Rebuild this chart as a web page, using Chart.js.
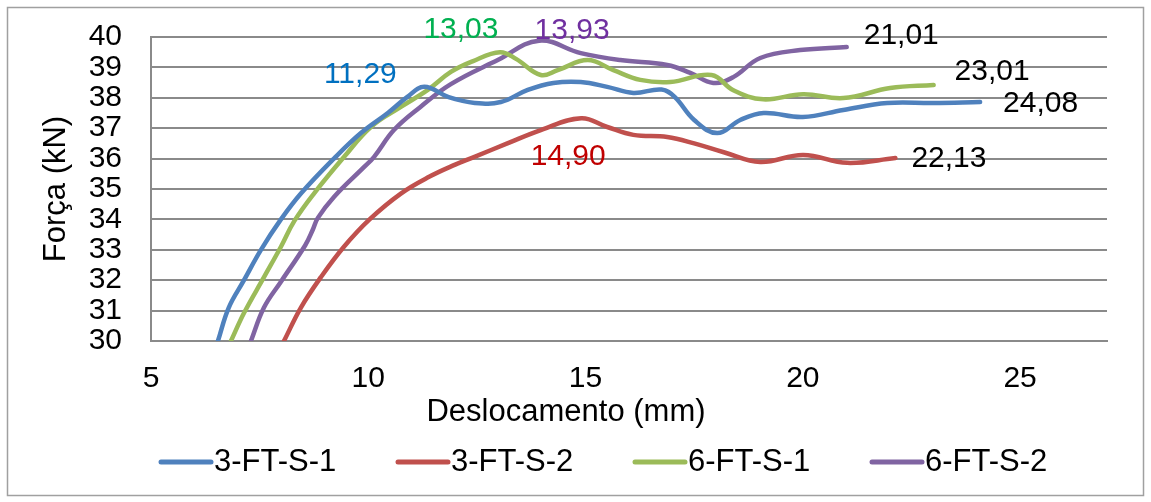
<!DOCTYPE html>
<html>
<head>
<meta charset="utf-8">
<script src="https://cdn.jsdelivr.net/npm/chart.js@4/dist/chart.umd.min.js"></script>
<style>
  html, body { margin: 0; padding: 0; background: #fff; }
  #wrap { width: 1151px; height: 502px; }
</style>
</head>
<body>
<div id="wrap"><canvas id="chart" width="1151" height="502"></canvas></div>
<script>
// séries (deslocamento em mm, força em kN)
const s1X = [6.54, 6.79, 7.14, 7.53, 7.99, 8.45, 9.21, 9.83, 10.45, 10.9, 11.29, 11.85, 12.45, 13.05, 13.67, 14.26, 14.89, 15.5, 16.1, 16.75, 17.05, 17.5, 18.03, 18.56, 19.1, 20.0, 20.93, 21.94, 23.0, 24.08];
const s1Y = [30.0, 31.1, 32.0, 33.0, 34.0, 34.85, 36.0, 36.84, 37.5, 38.03, 38.36, 38.02, 37.83, 37.86, 38.26, 38.49, 38.52, 38.36, 38.16, 38.27, 38.03, 37.27, 36.84, 37.27, 37.5, 37.37, 37.6, 37.83, 37.83, 37.86];

const s2X = [8.06, 8.45, 8.91, 9.44, 10.03, 10.75, 11.4, 12.0, 12.43, 13.2, 13.97, 14.9, 15.5, 16.1, 16.88, 17.5, 18.2, 19.02, 20.01, 21.02, 22.13];
const s2Y = [30.0, 31.1, 32.1, 33.1, 34.0, 34.85, 35.4, 35.8, 36.05, 36.5, 36.94, 37.33, 37.04, 36.78, 36.71, 36.5, 36.2, 35.89, 36.12, 35.86, 36.02];

const s3X = [6.84, 7.14, 7.6, 7.99, 8.3, 8.75, 9.44, 10.06, 10.75, 11.37, 11.9, 12.4, 13.03, 13.4, 13.97, 14.36, 15.05, 15.64, 16.26, 16.95, 17.9, 18.4, 19.09, 20.01, 20.93, 22.01, 23.01];
const s3Y = [30.0, 30.92, 32.1, 33.1, 33.95, 34.85, 36.05, 37.04, 37.7, 38.26, 38.85, 39.2, 39.5, 39.28, 38.75, 38.91, 39.24, 38.91, 38.59, 38.52, 38.75, 38.25, 37.95, 38.12, 37.99, 38.32, 38.42];

const s4X = [7.3, 7.6, 7.99, 8.55, 8.72, 8.84, 9.21, 9.9, 10.13, 10.59, 11.2, 11.9, 12.98, 13.93, 14.89, 15.8, 16.88, 17.41, 17.94, 18.4, 19.02, 19.94, 21.01];
const s4Y = [30.0, 31.1, 31.95, 33.15, 33.65, 34.05, 34.74, 35.72, 36.05, 36.94, 37.7, 38.45, 39.24, 39.88, 39.47, 39.24, 39.08, 38.82, 38.49, 38.68, 39.31, 39.57, 39.67];

const seriesNames = ['3-FT-S-1', '3-FT-S-2', '6-FT-S-1', '6-FT-S-2'];
const seriesColors = ['#4F81BD', '#C0504D', '#9BBB59', '#8064A2'];
const xTicks = [5, 10, 15, 20, 25];
const yTicks = [30, 31, 32, 33, 34, 35, 36, 37, 38, 39, 40];

const FONT = '"Liberation Sans", Arial, sans-serif';

const toPoints = (xs, ys) => xs.map((x, i) => ({ x, y: ys[i] }));
const allX = [s1X, s2X, s3X, s4X];
const allY = [s1Y, s2Y, s3Y, s4Y];

// rótulos: índice da série, índice do ponto, deslocamento em px, cor, alinhamento
const pointLabels = [
  { ds: 0, pt: 10, dx: -64, dy: -12, color: '#0070C0', align: 'center' },
  { ds: 2, pt: 12, dx: -39, dy: -22, color: '#00B050', align: 'center' },
  { ds: 3, pt: 13, dx: 33, dy: -10, color: '#7030A0', align: 'center' },
  { ds: 1, pt: 11, dx: -13, dy: 39, color: '#C00000', align: 'center' },
  { ds: 3, pt: s4X.length - 1, dx: 17, dy: -11, color: '#000', align: 'left' },
  { ds: 2, pt: s3X.length - 1, dx: 21, dy: -13, color: '#000', align: 'left' },
  { ds: 0, pt: s1X.length - 1, dx: 23, dy: 2, color: '#000', align: 'left' },
  { ds: 1, pt: s2X.length - 1, dx: 16, dy: 1, color: '#000', align: 'left' }
];

const labelPlugin = {
  id: 'pointLabels',
  afterDatasetsDraw(chart) {
    const { ctx, scales } = chart;
    ctx.save();
    ctx.font = '30px ' + FONT;
    ctx.textBaseline = 'middle';
    pointLabels.forEach(l => {
      const xv = allX[l.ds][l.pt];
      const yv = allY[l.ds][l.pt];
      const px = scales.x.getPixelForValue(xv);
      const py = scales.y.getPixelForValue(yv);
      ctx.fillStyle = l.color;
      ctx.textAlign = l.align;
      ctx.fillText(xv.toFixed(2).replace('.', ','), px + l.dx, py + l.dy);
    });
    ctx.restore();
  }
};

// borda externa, título do eixo x e legenda desenhados à mão
const framePlugin = {
  id: 'frame',
  beforeDraw(chart) {
    const { ctx } = chart;
    ctx.save();
    ctx.strokeStyle = '#a0a0a0';
    ctx.lineWidth = 1.5;
    ctx.strokeRect(7.5, 7.5, 1136, 488);
    ctx.restore();
  },
  afterDraw(chart) {
    const { ctx } = chart;
    ctx.save();
    ctx.font = '31px ' + FONT;
    ctx.textBaseline = 'middle';
    ctx.fillStyle = '#000';
    ctx.textAlign = 'center';
    ctx.fillText('Deslocamento (mm)', 566, 412);
    ctx.textAlign = 'left';
    const y = 462;
    seriesNames.forEach((name, i) => {
      const x0 = 158 + i * 237;
      ctx.strokeStyle = seriesColors[i];
      ctx.lineWidth = 5;
      ctx.lineCap = 'round';
      ctx.beginPath();
      ctx.moveTo(x0 + 3, y);
      ctx.lineTo(x0 + 53, y);
      ctx.stroke();
      ctx.fillStyle = '#000';
      ctx.fillText(name, x0 + 56, y);
    });
    ctx.restore();
  }
};

const datasets = seriesNames.map((name, i) => ({
  label: name,
  data: toPoints(allX[i], allY[i]),
  borderColor: seriesColors[i],
  backgroundColor: seriesColors[i],
  borderWidth: 4.5,
  borderCapStyle: 'round',
  borderJoinStyle: 'round',
  pointRadius: 0,
  tension: 0.4,
  fill: false
}));

new Chart(document.getElementById('chart'), {
  type: 'line',
  data: { datasets },
  options: {
    responsive: false,
    animation: false,
    layout: { padding: { top: 37, right: 44, left: 0, bottom: 0 } },
    plugins: {
      legend: { display: false },
      tooltip: { enabled: false }
    },
    scales: {
      x: {
        type: 'linear',
        min: 5,
        max: 27,
        afterBuildTicks: s => { s.ticks = xTicks.map(v => ({ value: v })); },
        afterFit: s => { s.height = 161; s.paddingLeft = 0; s.paddingRight = 0; },
        grid: { display: false, drawTicks: false },
        border: { display: true, color: '#8a8a8a', width: 2 },
        ticks: { padding: 20, color: '#000', autoSkip: false, maxRotation: 0, font: { family: FONT, size: 30 } }
      },
      y: {
        type: 'linear',
        min: 30,
        max: 40,
        afterBuildTicks: s => { s.ticks = yTicks.map(v => ({ value: v })); },
        afterFit: s => { s.width = 151; s.paddingTop = 0; s.paddingBottom = 0; },
        grid: { color: '#8a8a8a', lineWidth: 2, drawTicks: false },
        border: { display: true, color: '#8a8a8a', width: 2 },
        ticks: { padding: 29, color: '#000', autoSkip: false, font: { family: FONT, size: 30 } },
        title: {
          display: true,
          text: 'Força (kN)',
          color: '#000',
          font: { family: FONT, size: 31 },
          padding: { top: 38, bottom: 0 }
        }
      }
    }
  },
  plugins: [labelPlugin, framePlugin]
});
</script>
</body>
</html>
